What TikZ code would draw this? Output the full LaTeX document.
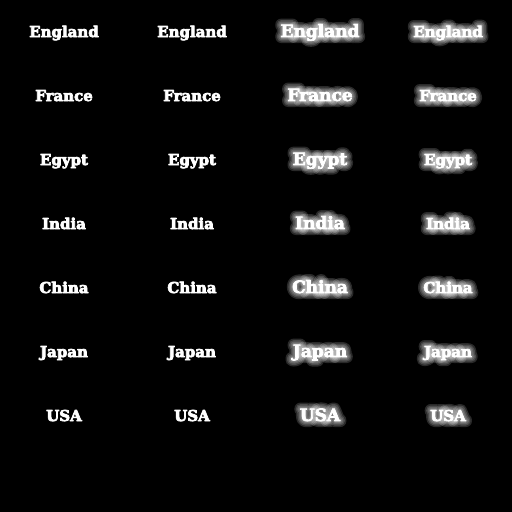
\documentclass[tikz,border=0pt]{standalone}
\usepackage{fontspec}
\setmainfont{DejaVu Serif}
% text drawn in fill+stroke (2) or stroke-only (1) mode
\newcommand{\inkmode}[3]{\special{pdf:literal direct #1 Tr #2 w 1 j 1 J}#3\special{pdf:literal direct 0 Tr}}
\begin{document}
\begin{tikzpicture}[x=1pt,y=-1pt,
        country/.style={text=white, draw opacity=1, anchor=base, inner sep=0pt, font=\bfseries\fontsize{15}{15}\selectfont},
        large/.style={font=\bfseries\fontsize{17}{17}\selectfont},
        halo/.style={opacity=0.16}
    ]
        % Background
        \fill[black] (0,0) rectangle (512,512);

        \foreach \name [count=\i from 0] in {England,France,Egypt,India,China,Japan,USA} {
            % Plain
            \node[country] (\name-a) at (64,{37+64*\i}) {\inkmode{2}{0.7}{\name}};
            \node[country] (\name-b) at (192,{37+64*\i}) {\inkmode{2}{0.7}{\name}};
            % Glow
            \foreach \w in {12,9,6,3.5} {
                \node[country, large, halo] at (320,{37+64*\i}) {\color{white}\inkmode{1}{\w}{\name}};
                \node[country, halo] at (448,{37+64*\i}) {\color{white}\inkmode{1}{\w}{\name}};
            }
            \node[country, large] (\name-c) at (320,{37+64*\i}) {\inkmode{2}{0.7}{\name}};
            \node[country] (\name-d) at (448,{37+64*\i}) {\inkmode{2}{0.7}{\name}};
        }
    \end{tikzpicture}
\end{document}
